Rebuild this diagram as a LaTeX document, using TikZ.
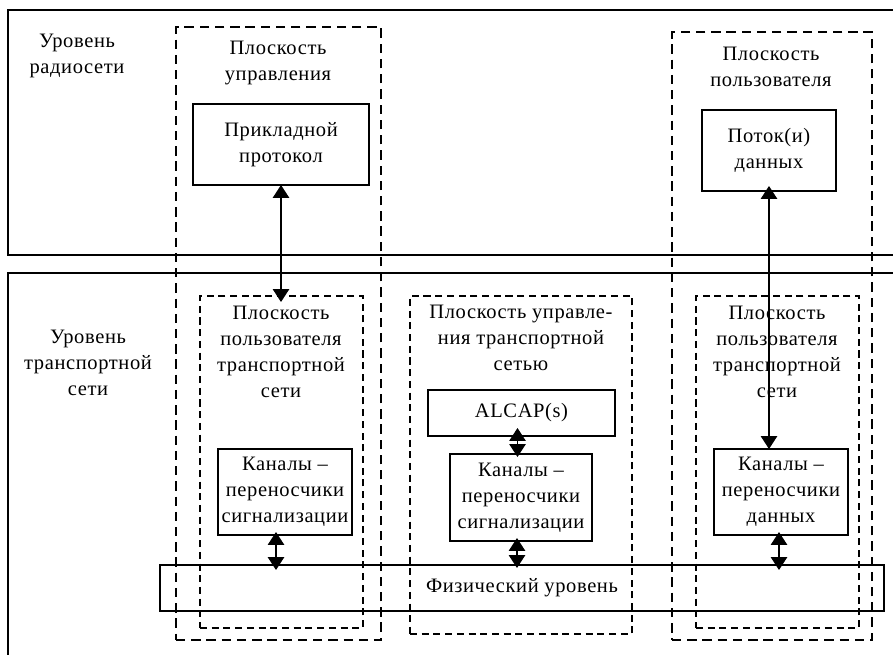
\documentclass[tikz,border=0pt]{standalone}
\usepackage{fontspec}
\setmainfont{Liberation Serif}[LetterSpace=3]
\usetikzlibrary{arrows.meta}

\begin{document}
\begin{tikzpicture}[x=0.03cm, y=-0.03cm,
  every node/.style={font=\fontsize{17.5}{22}\selectfont, align=center, inner sep=0pt, outer sep=0pt},
  box/.style={draw, line width=1pt},
  plane/.style={draw, line width=2.4pt, dash pattern=on 8pt off 5pt},
  tplane/.style={draw, line width=1.1pt, dash pattern=on 6pt off 4pt},
  link/.style={line width=1pt, {Triangle[width=14pt,length=11pt]}-{Triangle[width=14pt,length=11pt]}}]

  \useasboundingbox (0,0) rectangle (893,655);

  % layers
  \draw [line width=1.3pt] (893,10) -| (8,255) -- (893,255);
  \draw [line width=1.3pt] (893,273) -| (8,655);

  \node (radio) at (77,56) {Уровень\\радиосети};
  \node (transp) at (88,363) {Уровень\\транспортной\\сети};

  % planes
  \node [plane, minimum width=6.15cm, minimum height=18.39cm] (cp) at (278.5,333.5) {};
  \node [plane, minimum width=6.0cm, minimum height=18.24cm] (up) at (772,336) {};

  \node [tplane, minimum width=4.89cm, minimum height=9.96cm] (tpL) at (281.5,462) {};
  \node [tplane, line width=1.7pt, minimum width=6.66cm, minimum height=10.14cm] (tpM) at (521,465) {};
  \node [tplane, minimum width=4.89cm, minimum height=9.96cm] (tpR) at (777.5,462) {};

  \node (cpText) at (278,63) {Плоскость\\управления};
  \node (upText) at (771,67) {Плоскость\\пользователя};
  \node (tpLText) at (281,352) {Плоскость\\пользователя\\транспортной\\сети};
  \node (tpMText) at (521,338) {Плоскость управле-\\ния транспортной\\сетью};
  \node (tpRText) at (777,352) {Плоскость\\пользователя\\транспортной\\сети};

  % boxes
  \node [box, minimum width=5.28cm, minimum height=2.43cm] (prikl) at (281,144.5) {Прикладной\\протокол};
  \node [box, minimum width=4.02cm, minimum height=2.43cm] (potok) at (769,150.5) {Поток(и)\\данных};
  \node [box, minimum width=5.61cm, minimum height=1.38cm] (alcap) at (521.5,413) {ALCAP(s)};
  \node [box, minimum width=4.02cm, minimum height=2.58cm] (kanS) at (285,492) {Каналы –\\переносчики\\сигнализации};
  \node [box, minimum width=4.26cm, minimum height=2.61cm] (kanM) at (521,497.5) {Каналы –\\переносчики\\сигнализации};
  \node [box, minimum width=4.02cm, minimum height=2.58cm] (kanD) at (781,492) {Каналы –\\переносчики\\данных};
  \node [box, minimum width=21.72cm, minimum height=1.38cm] (phys) at (522,588) {Физический уровень};

  % links
  \coordinate (sL) at ([xshift=-0.27cm]kanS.south);
  \coordinate (aM) at ([xshift=-0.12cm]alcap.south);
  \coordinate (sM) at ([xshift=-0.12cm]kanM.south);
  \coordinate (sR) at ([xshift=-0.06cm]kanD.south);

  \draw [link, shorten >=-0.18cm] (prikl.south) -- (prikl.south |- tpL.north);
  \draw [link, shorten <=-0.15cm] (potok.south) -- (potok.south |- kanD.north);
  \draw [link, shorten <=-0.24cm, shorten >=-0.09cm] (aM) -- (aM |- kanM.north);
  \draw [link, shorten <=-0.09cm, shorten >=-0.15cm] (sL) -- (sL |- phys.north);
  \draw [link, shorten <=-0.09cm, shorten >=-0.09cm] (sM) -- (sM |- phys.north);
  \draw [link, shorten <=-0.09cm, shorten >=-0.15cm] (sR) -- (sR |- phys.north);

\end{tikzpicture}
\end{document}
